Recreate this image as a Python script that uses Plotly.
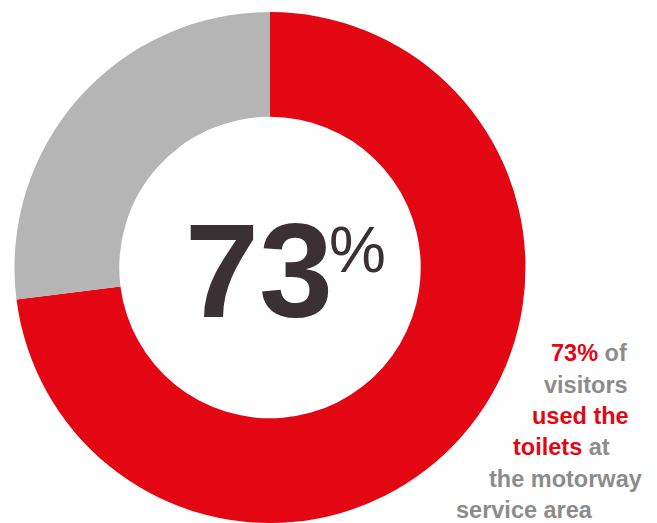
import plotly.graph_objects as go

# Share of visitors who used the toilets
labels = ["Used the toilets", "Did not use the toilets"]
values = [73, 27]
slice_colors = ["#E30613", "#B5B5B5"]

headline_number = "73"
headline_unit = "%"

# Caption lines: (text, colour) fragments per line
caption_lines = [
    [("73%", "red"), (" of", "grey")],
    [("visitors", "grey")],
    [("used the", "red")],
    [("toilets", "red"), (" at", "grey")],
    [("the motorway", "grey")],
    [("service area", "grey")],
]
caption_x_px = [549, 542, 530, 511, 487, 454]
caption_y_px = [353, 385, 416, 447, 479, 510]

W, H = 657, 523
RED = "#E30613"
GREY = "#8C8C8C"
DARK = "#3B3033"
palette = {"red": RED, "grey": GREY}

fig = go.Figure(
    go.Pie(
        labels=labels,
        values=values,
        hole=0.59,
        sort=False,
        direction="clockwise",
        rotation=0,
        marker=dict(colors=slice_colors, line=dict(width=0)),
        textinfo="none",
        hoverinfo="label+percent",
        domain=dict(x=[(270 - 255.5) / W, (270 + 255.5) / W], y=[0, 1 - 12 / H]),
        showlegend=False,
    )
)

annotations = [
    dict(
        text=f"<b>{headline_number}</b>",
        x=259 / W, y=1 - 271 / H, xref="paper", yref="paper",
        xanchor="center", yanchor="middle", showarrow=False,
        font=dict(family="Liberation Sans", size=133, color=DARK),
    ),
    dict(
        text=headline_unit,
        x=327 / W, y=1 - 250 / H, xref="paper", yref="paper",
        xanchor="left", yanchor="middle", showarrow=False,
        font=dict(family="Liberation Sans", size=64, color=DARK),
    ),
]

for parts, xp, yp in zip(caption_lines, caption_x_px, caption_y_px):
    html = "".join(
        f"<span style='color:{palette[c]}'>{t}</span>" for t, c in parts
    )
    annotations.append(
        dict(
            text=f"<b>{html}</b>",
            x=xp / W, y=1 - yp / H, xref="paper", yref="paper",
            xanchor="left", yanchor="middle", showarrow=False,
            font=dict(family="Liberation Sans", size=23.5, color=GREY),
        )
    )

fig.update_layout(
    width=W,
    height=H,
    margin=dict(l=0, r=0, t=0, b=0),
    paper_bgcolor="white",
    plot_bgcolor="white",
    annotations=annotations,
)

fig.write_html("out.html")
